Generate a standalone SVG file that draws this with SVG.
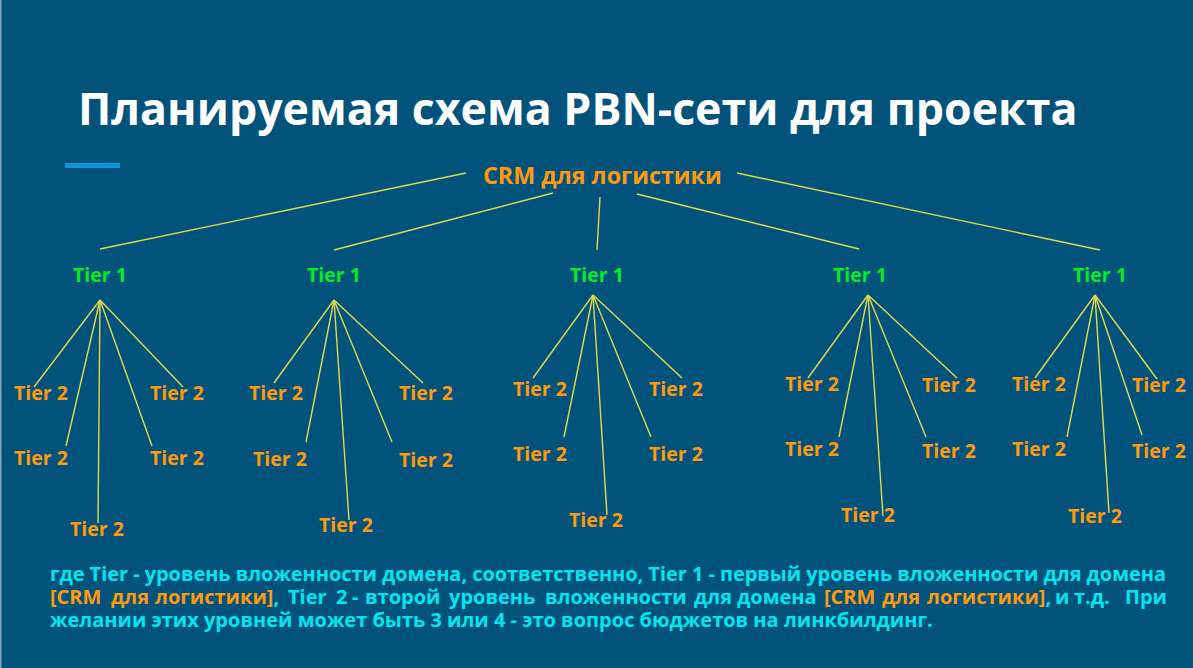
<svg xmlns="http://www.w3.org/2000/svg" width="1193" height="668" viewBox="0 0 1193 668">
<style>
text{font-family:"Open Sans","Noto Sans","DejaVu Sans",sans-serif;font-weight:bold}
.title{font-size:44.7px;fill:#ffffff}
.root{font-size:23.3px;fill:#ff9a10}
.t1{font-size:19.5px;fill:#00ee22;text-anchor:middle}
.t2{font-size:19.5px;fill:#ff9a10}
.note{font-size:20px;fill:#00e6f0}
.or{fill:#ff9a10}
#connectors line{stroke:#e2da4c;stroke-width:1.4}
</style>
<rect x="0" y="0" width="1193" height="668" fill="#02537c"/>
<rect x="0" y="0" width="1.5" height="668" fill="#8aa6b8"/>
<text class="title" x="78" y="125">Планируемая схема PBN-сети для проекта</text>
<rect x="65" y="163" width="55" height="5" fill="#0b96dc"/>
<g id="connectors">
<line x1="466" y1="173" x2="100" y2="249"/>
<line x1="553" y1="193" x2="334" y2="250"/>
<line x1="600" y1="197" x2="597" y2="250"/>
<line x1="637" y1="194" x2="859" y2="249"/>
<line x1="737" y1="173" x2="1100" y2="250"/>
<line x1="100" y1="300" x2="34" y2="387"/>
<line x1="100" y1="300" x2="66" y2="446"/>
<line x1="100" y1="300" x2="98" y2="523"/>
<line x1="100" y1="300" x2="152" y2="446"/>
<line x1="100" y1="300" x2="183" y2="387"/>
<line x1="334" y1="300" x2="274" y2="383"/>
<line x1="334" y1="300" x2="306" y2="442"/>
<line x1="334" y1="300" x2="349" y2="520"/>
<line x1="334" y1="300" x2="392" y2="442"/>
<line x1="334" y1="300" x2="423" y2="383"/>
<line x1="593" y1="295" x2="533" y2="378"/>
<line x1="593" y1="295" x2="564" y2="437"/>
<line x1="593" y1="295" x2="607" y2="515"/>
<line x1="593" y1="295" x2="651" y2="437"/>
<line x1="593" y1="295" x2="682" y2="378"/>
<line x1="868" y1="295" x2="808" y2="378"/>
<line x1="868" y1="295" x2="839" y2="437"/>
<line x1="868" y1="295" x2="883" y2="516"/>
<line x1="868" y1="295" x2="926" y2="437"/>
<line x1="868" y1="295" x2="957" y2="378"/>
<line x1="1095" y1="295" x2="1035" y2="378"/>
<line x1="1095" y1="295" x2="1067" y2="437"/>
<line x1="1095" y1="295" x2="1109" y2="513"/>
<line x1="1095" y1="295" x2="1142" y2="435"/>
<line x1="1095" y1="295" x2="1157" y2="379"/>
</g>
<g id="root"><text class="root" x="483" y="184">CRM для логистики</text></g>
<g id="tier1-a"><text class="t1" x="100" y="282">Tier 1</text></g>
<g id="tier1-b"><text class="t1" x="334" y="282">Tier 1</text></g>
<g id="tier1-c"><text class="t1" x="597" y="282">Tier 1</text></g>
<g id="tier1-d"><text class="t1" x="860" y="282">Tier 1</text></g>
<g id="tier1-e"><text class="t1" x="1100" y="282">Tier 1</text></g>
<g id="t2-a1"><text class="t2" x="14" y="400">Tier 2</text></g>
<g id="t2-a2"><text class="t2" x="14" y="465">Tier 2</text></g>
<g id="t2-a3"><text class="t2" x="70" y="536">Tier 2</text></g>
<g id="t2-a4"><text class="t2" x="150" y="400">Tier 2</text></g>
<g id="t2-a5"><text class="t2" x="150" y="465">Tier 2</text></g>
<g id="t2-b1"><text class="t2" x="249" y="400">Tier 2</text></g>
<g id="t2-b2"><text class="t2" x="253" y="466">Tier 2</text></g>
<g id="t2-b3"><text class="t2" x="319" y="532">Tier 2</text></g>
<g id="t2-b4"><text class="t2" x="399" y="400">Tier 2</text></g>
<g id="t2-b5"><text class="t2" x="399" y="467">Tier 2</text></g>
<g id="t2-c1"><text class="t2" x="513" y="396">Tier 2</text></g>
<g id="t2-c2"><text class="t2" x="513" y="461">Tier 2</text></g>
<g id="t2-c3"><text class="t2" x="569" y="527">Tier 2</text></g>
<g id="t2-c4"><text class="t2" x="649" y="396">Tier 2</text></g>
<g id="t2-c5"><text class="t2" x="649" y="461">Tier 2</text></g>
<g id="t2-d1"><text class="t2" x="785" y="391">Tier 2</text></g>
<g id="t2-d2"><text class="t2" x="785" y="456">Tier 2</text></g>
<g id="t2-d3"><text class="t2" x="841" y="522">Tier 2</text></g>
<g id="t2-d4"><text class="t2" x="922" y="392">Tier 2</text></g>
<g id="t2-d5"><text class="t2" x="922" y="458">Tier 2</text></g>
<g id="t2-e1"><text class="t2" x="1012" y="391">Tier 2</text></g>
<g id="t2-e2"><text class="t2" x="1012" y="456">Tier 2</text></g>
<g id="t2-e3"><text class="t2" x="1068" y="523">Tier 2</text></g>
<g id="t2-e4"><text class="t2" x="1132" y="392">Tier 2</text></g>
<g id="t2-e5"><text class="t2" x="1132" y="458">Tier 2</text></g>
<g id="note">
<text class="note" x="50" y="581" textLength="1116" lengthAdjust="spacing">где Tier - уровень вложенности домена, соответственно, Tier 1 - первый уровень вложенности для домена</text>
<text class="note" y="604"><tspan class="or" x="50">[CRM</tspan><tspan class="or" x="111">для</tspan><tspan x="155"><tspan class="or">логистики]</tspan>,</tspan><tspan x="288">Tier</tspan><tspan x="336">2</tspan><tspan x="352">-</tspan><tspan x="365">второй</tspan><tspan x="449">уровень</tspan><tspan x="545">вложенности</tspan><tspan x="694">для</tspan><tspan x="737">домена</tspan><tspan class="or" x="824">[CRM</tspan><tspan class="or" x="882">для</tspan><tspan x="927"><tspan class="or">логистики]</tspan>,</tspan><tspan x="1055">и</tspan><tspan x="1074">т.д.</tspan><tspan x="1125">При</tspan></text>
<text class="note" x="50" y="627">желании этих уровней может быть 3 или 4 - это вопрос бюджетов на линкбилдинг.</text>
</g>
</svg>
